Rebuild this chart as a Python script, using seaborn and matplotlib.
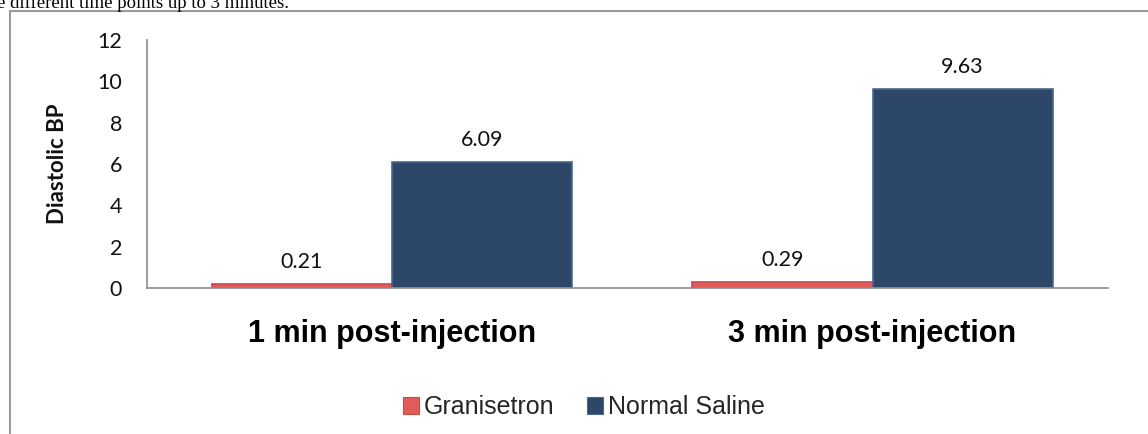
import matplotlib
matplotlib.use("Agg")
import matplotlib.pyplot as plt
import seaborn as sns
import pandas as pd
from matplotlib.lines import Line2D
from matplotlib.patches import Patch

categories = ["1 min post-injection", "3 min post-injection"]
series_names = ["Granisetron", "Normal Saline"]
granisetron = [0.21, 0.29]
normal_saline = [6.09, 9.63]
y_ticks = [0, 2, 4, 6, 8, 10, 12]
colors = ["#E35A5A", "#2D4769"]
edge_colors = ["#C94848", "#4A6890"]

df = pd.DataFrame({
    "Time": categories * 2,
    "Group": [series_names[0]] * len(categories) + [series_names[1]] * len(categories),
    "Value": granisetron + normal_saline,
})

sns.set_theme(style="white")
W, H = 1148, 434
fig = plt.figure(figsize=(W / 100, H / 100), dpi=100)
ax = fig.add_axes([147 / W, 1 - 288 / H, (1108 - 147) / W, (288 - 40) / H])

sns.barplot(data=df, x="Time", y="Value", hue="Group", hue_order=series_names,
            order=categories, palette=colors, width=0.75, gap=0, errorbar=None,
            saturation=1, ax=ax, legend=False)

for cont, ec in zip(ax.containers, edge_colors):
    for p in cont:
        p.set_edgecolor(ec)
        p.set_linewidth(1.2)
    ax.bar_label(cont, fmt="%.2f", padding=8.5, fontsize=15.5, family="Lato", color="#111111")

ax.set_ylim(0, 12)
ax.set_yticks(y_ticks)
ax.set_xlim(-0.51, 1.49)
ax.set_xlabel("")
ax.set_ylabel("")
for s in ["top", "right"]:
    ax.spines[s].set_visible(False)
for s in ["left", "bottom"]:
    ax.spines[s].set_color("#8C8C8C")
    ax.spines[s].set_linewidth(1.2)
ax.tick_params(axis="y", length=0, pad=18, labelsize=15.5)
ax.tick_params(axis="x", length=0, pad=22)
for t in ax.get_yticklabels():
    t.set_family("Lato")
    t.set_color("#111111")
for t in ax.get_xticklabels():
    t.set_family("Liberation Sans")
    t.set_fontweight("bold")
    t.set_fontsize(22)
    t.set_color("#000000")

fig.text(58 / W, 1 - 164 / H, "Diastolic BP", rotation=90, ha="center", va="center",
         fontsize=16, fontweight="bold", family="Lato", color="#111111")

handles = [Patch(facecolor=c, edgecolor=e, linewidth=0.8) for c, e in zip(colors, edge_colors)]
fig.legend(handles, series_names, loc="center", bbox_to_anchor=(584 / W, 1 - 407 / H),
           ncol=2, frameon=False, prop={"family": "Liberation Sans", "size": 18},
           handlelength=0.65, handleheight=0.65, handletextpad=0.2, columnspacing=1.3,
           borderpad=0, borderaxespad=0)

# caption text of the surrounding document, partly cut off at the top edge
fig.text(-3 / W, 1 - 8 / H, "e different time points up to 3 minutes.", ha="left",
         va="baseline", fontsize=13.5, family="Liberation Serif", color="#000000")

# outer chart frame (partially outside the canvas)
fig.add_artist(Line2D([9.5 / W, 1.0], [1 - 11 / H, 1 - 11 / H], color="#9A9A9A", linewidth=1.5,
                      transform=fig.transFigure))
fig.add_artist(Line2D([9.5 / W, 9.5 / W], [1 - 11 / H, 0], color="#9A9A9A", linewidth=1.5,
                      transform=fig.transFigure))

fig.savefig("out.png", dpi=100)
